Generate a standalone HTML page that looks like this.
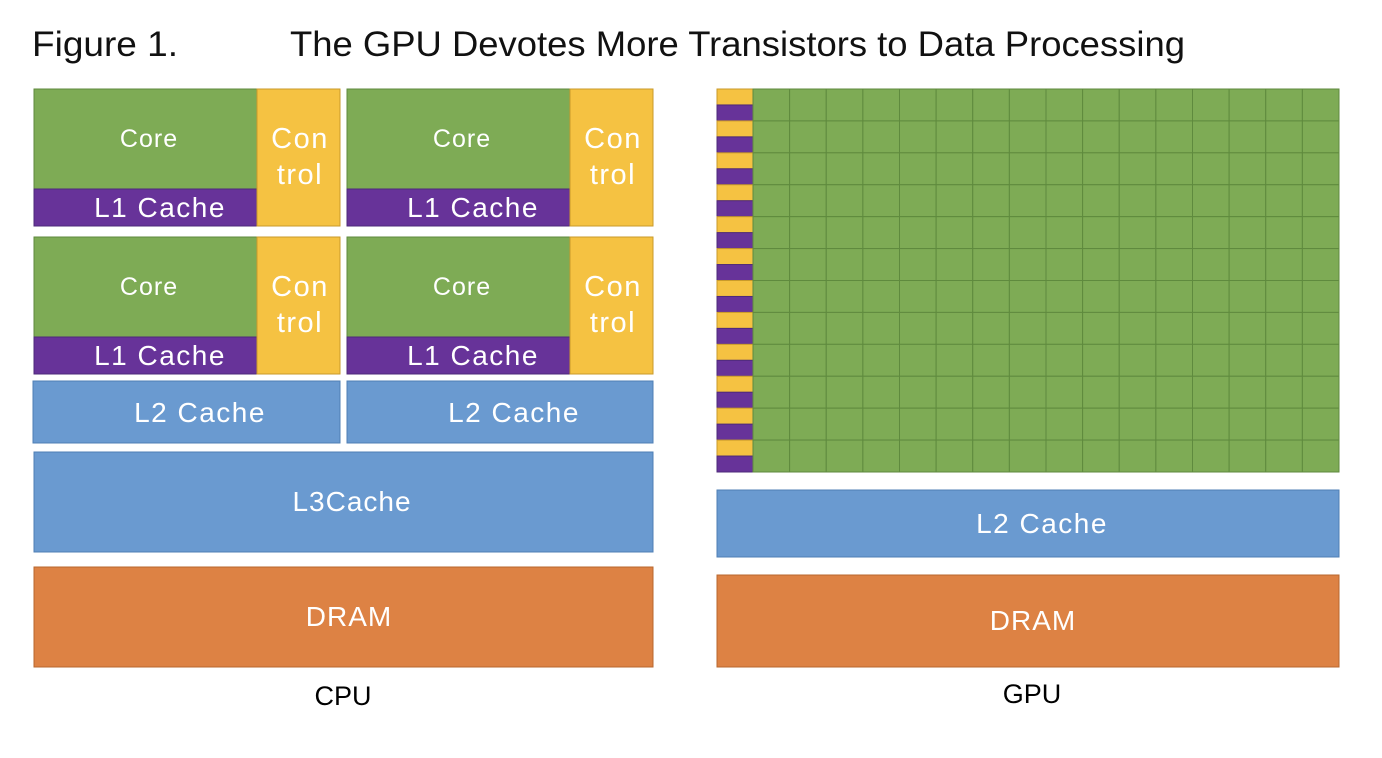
<!DOCTYPE html>
<html><head><meta charset="utf-8"><style>
html,body{margin:0;padding:0;background:#fff;}
svg{display:block;font-family:"Liberation Sans",sans-serif;}
</style></head><body>
<svg id="fig" width="1382" height="758" viewBox="0 0 1382 758">
<text x="32" y="56" font-size="35" fill="#111" textLength="146" lengthAdjust="spacingAndGlyphs">Figure 1.</text>
<text x="290" y="56" font-size="35" fill="#111" textLength="895" lengthAdjust="spacingAndGlyphs">The GPU Devotes More Transistors to Data Processing</text>
<g id="cpu"></g>
<g id="gpu"></g>
</svg>
<script>
const NS="http://www.w3.org/2000/svg";
const C={green:"#7eab55",gS:"#5f8a3e",yel:"#f5c242",yS:"#c99a2a",pur:"#673399",pS:"#4e2a7a",blue:"#6a9ad0",bS:"#4f7fb5",org:"#dd8244",oS:"#b8672e"};
function rect(p,x,y,w,h,f,s,name){const r=document.createElementNS(NS,"rect");
r.setAttribute("x",x);r.setAttribute("y",y);r.setAttribute("width",w);r.setAttribute("height",h);
r.setAttribute("fill",f);r.setAttribute("stroke",s);r.setAttribute("stroke-width","1");


p.appendChild(r);return r;}
function text(p,x,y,str,size,fill,name,ls){const t=document.createElementNS(NS,"text");
t.setAttribute("x",x);t.setAttribute("y",y);t.setAttribute("font-size",size);t.setAttribute("fill",fill);
t.setAttribute("text-anchor","middle");t.textContent=str;
if(ls)t.setAttribute("letter-spacing",ls);


p.appendChild(t);return t;}
const cpu=document.getElementById("cpu"), gpu=document.getElementById("gpu");
const coreX=[34,347], coreY=[89,237];
coreY.forEach(y=>coreX.forEach(x=>{
  rect(cpu,x,y,223,100,C.green,C.gS,"core-block");
  text(cpu,x+115,y+58,"Core",25,"#fff","core-label","1");
  rect(cpu,x,y+100,223,37,C.pur,C.pS,"l1-cache-block");
  text(cpu,x+126,y+128,"L1 Cache",28,"#fff","l1-cache-label","1.5");
  rect(cpu,x+223,y,83,137,C.yel,C.yS,"control-block");
  text(cpu,x+266,y+59,"Con",29,"#fff","control-label-top","1.5");
  text(cpu,x+266,y+95,"trol",29,"#fff","control-label-bottom","1.5");
}));
[[33,307,200],[347,306,514]].forEach(([x,w,cx])=>{
  rect(cpu,x,381,w,62,C.blue,C.bS,"l2-cache-block");
  text(cpu,cx,422,"L2 Cache",28,"#fff","l2-cache-label","1.5");
});
rect(cpu,34,452,619,100,C.blue,C.bS,"l3-cache-block");
text(cpu,352,511,"L3Cache",28,"#fff","l3-cache-label","1");
rect(cpu,34,567,619,100,C.org,C.oS,"cpu-dram-block");
text(cpu,349,626,"DRAM",28,"#fff","cpu-dram-label","1");
text(cpu,343,705,"CPU",27,"#000","cpu-label");
// GPU
const rows=12, cols=16, gx=753, gy=89, gw=586, gh=383;
const rh=gh/rows, cw=gw/cols;
for(let r=0;r<rows;r++){
  const y=gy+r*rh;
  rect(gpu,717,y,36,rh/2,C.yel,C.yS,"gpu-control-cell");
  rect(gpu,717,y+rh/2,36,rh/2,C.pur,C.pS,"gpu-l1-cell");
  for(let c=0;c<cols;c++){
    rect(gpu,gx+c*cw,y,cw,rh,C.green,C.gS,"gpu-core-cell");
  }
}
rect(gpu,717,490,622,67,C.blue,C.bS,"gpu-l2-cache-block");
text(gpu,1042,533,"L2 Cache",28,"#fff","gpu-l2-cache-label","1.5");
rect(gpu,717,575,622,92,C.org,C.oS,"gpu-dram-block");
text(gpu,1033,630,"DRAM",28,"#fff","gpu-dram-label","1");
text(gpu,1032,703,"GPU",27,"#000","gpu-label");
</script>
</body></html>
